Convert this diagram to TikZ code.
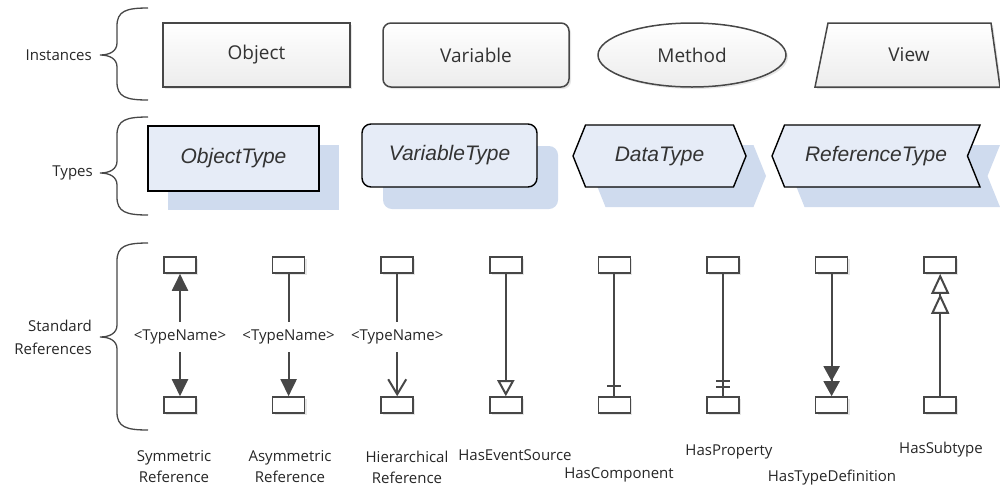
\documentclass[tikz,border=0pt]{standalone}
\usepackage{fontspec}
\setmainfont{Open Sans}
\newfontfamily\typefont{Liberation Sans}
\usetikzlibrary{shapes.geometric,shapes.symbols,shadows,arrows.meta,positioning}

\definecolor{edgegray}{HTML}{474747}
\definecolor{typefill}{HTML}{E6ECF7}
\definecolor{typeshade}{HTML}{CFDBEE}
\definecolor{instfill}{HTML}{ECECEC}

\tikzset{
    instlook/.style={draw=edgegray, line width=1.5pt, top color=white, bottom color=instfill,
        drop shadow={shadow xshift=2pt, shadow yshift=-2pt, opacity=.2}},
    inst/.style={instlook, minimum height=64pt, inner sep=0pt, text=black!80,
        font=\fontsize{19}{22}\selectfont},
    typebox/.style={draw=black, line width=1.4pt, fill=typefill, inner sep=0pt,
        text=black!80, font=\typefont\itshape\fontsize{21}{24}\selectfont},
    refbox/.style={draw=edgegray, line width=1.6pt, fill=white, minimum width=32pt,
        minimum height=16pt, inner sep=0pt,
        drop shadow={shadow xshift=2pt, shadow yshift=-2pt, opacity=.2}},
    refline/.style={draw=edgegray, line width=2pt},
    tname/.style={inner xsep=0pt, inner ysep=8pt, text=black!85, font=\fontsize{15}{17}\selectfont},
    lbl/.style={align=center, text=black!85, font=\fontsize{15}{21}\selectfont},
    sidelbl/.style={anchor=east, align=right, inner sep=0pt, text=black!85, font=\fontsize{15}{23}\selectfont},
    bracepath/.style={draw=edgegray, line width=1.3pt},
    fulltip/.style={-{Triangle[length=17pt,width=16pt]}},
}

% curly brace: top, tip, bottom
\newcommand\sidebrace[3]{
    \draw[bracepath] (148,#1) .. controls (126,#1) and (117,{#1+3}) .. (117,{#1+18})
        -- (117,{#2-12}) .. controls (117,{#2-4}) and (110,#2) .. (100,#2)
        .. controls (110,#2) and (117,{#2+4}) .. (117,{#2+12})
        -- (117,{#3-18}) .. controls (117,{#3-3}) and (126,#3) .. (148,#3);
}

\begin{document}
\begin{tikzpicture}[x=1pt, y=-1pt]
\useasboundingbox (0,0) rectangle (1000,491);

% Instances
\sidebrace{8}{55}{100}
\node[sidelbl] (linst) at (92,55) {Instances};
\node[inst, minimum width=187pt] (obj) at (256.5,55) {Object};
\node[inst, minimum width=186pt, rounded corners=8pt] (var) at (476,55) {Variable};
\node[inst, ellipse, minimum width=188pt] (meth) at (692,55) {Method};
\path[instlook] (815,87) -- (828,23) -- (991,23) -- (1000,87) -- cycle;
\node[text=black!80, font=\fontsize{19}{22}\selectfont] (view) at (909,55) {View};

% Types
\sidebrace{117}{173}{215}
\node[sidelbl] (ltype) at (93,173) {Types};
\node[typebox, minimum width=171pt, minimum height=65pt,
    general shadow={shadow xshift=20pt, shadow yshift=-19pt, fill=typeshade}] (otype) at (233.5,158.5) {ObjectType};
\node[typebox, minimum width=175pt, minimum height=63pt, rounded corners=9pt,
    general shadow={shadow xshift=21pt, shadow yshift=-22pt, fill=typeshade}] (vtype) at (449.5,155.5) {VariableType};
\node[typebox, signal, signal to=west and east, signal pointer angle=136,
    minimum width=173pt, minimum height=62pt,
    general shadow={shadow xshift=20pt, shadow yshift=-20pt, fill=typeshade}] (dtype) at (659.5,156) {DataType};
\node[typebox, signal, signal to=west, signal from=east, signal pointer angle=136,
    minimum width=208pt, minimum height=62pt,
    general shadow={shadow xshift=20pt, shadow yshift=-20pt, fill=typeshade}] (rtype) at (876,156) {ReferenceType};

% Standard references
\sidebrace{243}{337}{430}
\node[sidelbl] (lref) at (92,337) {Standard\\References};
\foreach \i in {1,...,8}{
    \node[refbox] (t\i) at ({71.4+108.6*\i},265) {};
    \node[refbox] (b\i) at ({71.4+108.6*\i},405) {};
}
\node[tname] (n1) at (t1 |- 0,337) {<TypeName>};
\node[tname] (n2) at (t2 |- 0,337) {<TypeName>};
\node[tname] (n3) at (t3 |- 0,337) {<TypeName>};

\draw[refline, fulltip] (n1) -- (t1);
\draw[refline, fulltip] (n1) -- (b1);
\draw[refline] (n2) -- (t2);
\draw[refline, fulltip] (n2) -- (b2);
\draw[refline] (n3) -- (t3);
\draw[refline, -{Straight Barb[length=15pt,width=18pt]}] (n3) -- (b3);
\draw[refline, -{Triangle[open,fill=white,length=16pt,width=17pt]}] (t4) -- (b4);
\draw[refline] (t5) -- (b5);
\draw[refline] ([yshift=10pt]b5.north) ++(-7pt,0) -- ++(14pt,0);
\draw[refline] (t6) -- (b6);
\draw[refline] ([yshift=9pt]b6.north) ++(-7pt,0) -- ++(14pt,0);
\draw[refline] ([yshift=15pt]b6.north) ++(-7pt,0) -- ++(14pt,0);
\draw[refline, -{Triangle[length=15pt,width=16pt]Triangle[length=15pt,width=16pt]}] (t7) -- (b7);
\draw[refline, -{Triangle[open,fill=white,length=20pt,width=18pt]Triangle[open,fill=white,length=20pt,width=18pt]}] (b8) -- (t8);

\node[lbl] (s1) at (174,467) {Symmetric\\Reference};
\node[lbl] (s2) at (290,467) {Asymmetric\\Reference};
\node[lbl] (s3) at (407,467) {Hierarchical\\Reference};
\node[lbl] (s4) at (515,455) {HasEventSource};
\node[lbl] (s5) at (619,475) {HasComponent};
\node[lbl] (s6) at (729,452) {HasProperty};
\node[lbl] (s7) at (832,478) {HasTypeDefinition};
\node[lbl] (s8) at (941,450) {HasSubtype};
\end{tikzpicture}
\end{document}
